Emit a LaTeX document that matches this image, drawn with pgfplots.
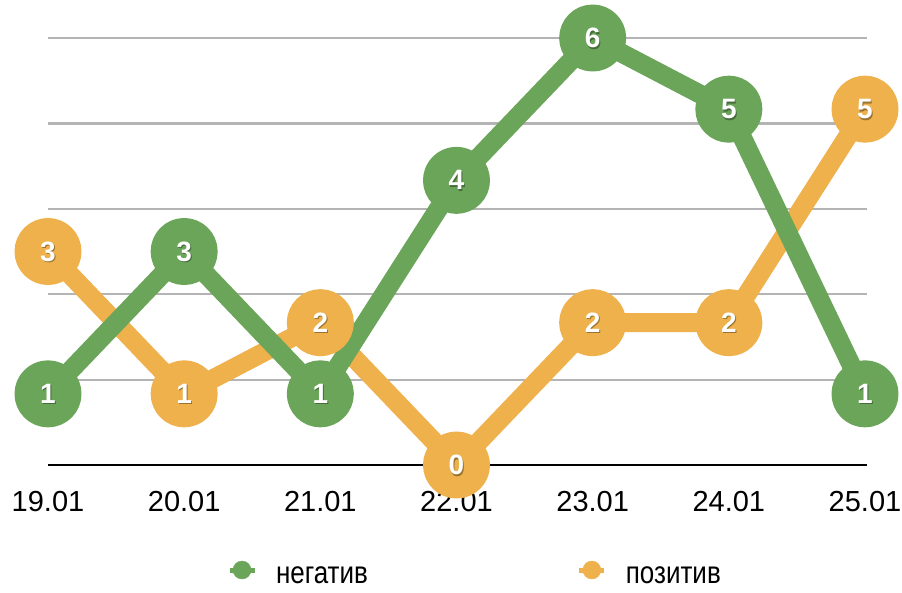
\documentclass[border=0pt]{standalone}
\usepackage{pgfplots}
\pgfplotsset{compat=1.18}
\usepackage{graphicx}
\usepackage{fontspec}
\setmainfont{Liberation Sans}
\definecolor{cgreen}{HTML}{6BA55A}
\definecolor{corange}{HTML}{EEB14B}
\definecolor{cgrid}{HTML}{B4B4B4}
\tikzset{
  lblstyle/.style={anchor=center, inner sep=0pt, font=\fontsize{28}{28}\selectfont\bfseries},
}
\begin{document}
\begin{tikzpicture}[x=1pt,y=1pt]
\begin{axis}[
  at={(48pt,127pt)}, anchor=south west,
  scale only axis, width=819pt, height=427pt,
  xmin=0, xmax=6.0147, ymin=0, ymax=6,
  clip=false,
  axis x line=bottom, axis y line=left,
  axis line style={-},
  y axis line style={draw=none},
  x axis line style={black, line width=2pt},
  tick style={draw=none},
  xtick={0,1,2,3,4,5,6},
  xticklabels={19.01,20.01,21.01,22.01,23.01,24.01,25.01},
  xticklabel style={font=\fontsize{29}{29}\selectfont, inner sep=0pt, yshift=-23.5pt},
  ytick={1.2,2.4,3.6,4.8,6},
  yticklabels={},
  ymajorgrids, grid style={cgrid, line width=2.2pt},
  /pgf/number format/assume math mode=true,
  legend columns=2,
  legend style={at={(0.21856,-0.2529)}, anchor=west, draw=none, fill=none,
    inner sep=0pt, outer sep=0pt,
    nodes={inner sep=0pt, font=\fontsize{26}{26}\selectfont, text=black},
    /tikz/every odd column/.style={column sep=19pt},
    /tikz/every even column/.style={column sep=209pt}},
  legend image code/.code={\draw[#1, line width=5pt] (0pt,6pt) -- (25pt,6pt);
    \fill[#1] (12.5pt,6pt) circle (9pt);},
]
% orange series
\addplot[forget plot, corange, line width=19pt, line join=round, mark=*, mark size=24pt,
  mark options={draw=none, fill=corange}] coordinates {
  (0,3) (1,1) (2,2) (3,0) (4,2) (5,2) (6,5)};
\addplot[forget plot, draw=none, mark=none, nodes near coords,
  every node near coord/.style={lblstyle, text=black, opacity=0.35, xshift=1pt, yshift=-1.5pt}] coordinates {
  (0,3) (1,1) (2,2) (3,0) (4,2) (5,2) (6,5)};
\addplot[forget plot, draw=none, mark=none, nodes near coords,
  every node near coord/.style={lblstyle, text=white}] coordinates {
  (0,3) (1,1) (2,2) (3,0) (4,2) (5,2) (6,5)};
% green series
\addplot[forget plot, cgreen, line width=19pt, line join=round, mark=*, mark size=24pt,
  mark options={draw=none, fill=cgreen}] coordinates {
  (0,1) (1,3) (2,1) (3,4) (4,6) (5,5) (6,1)};
\addplot[forget plot, draw=none, mark=none, nodes near coords,
  every node near coord/.style={lblstyle, text=black, opacity=0.35, xshift=1pt, yshift=-1.5pt}] coordinates {
  (0,1) (1,3) (2,1) (3,4) (4,6) (5,5) (6,1)};
\addplot[forget plot, draw=none, mark=none, nodes near coords,
  every node near coord/.style={lblstyle, text=white}] coordinates {
  (0,1) (1,3) (2,1) (3,4) (4,6) (5,5) (6,1)};
\addlegendimage{cgreen}
\addlegendentry{\scalebox{1}[1.2]{негатив}}
\addlegendimage{corange}
\addlegendentry{\scalebox{1}[1.2]{позитив}}
\end{axis}
\pgfresetboundingbox
\path[use as bounding box] (0,0) rectangle (902,592);
\end{tikzpicture}
\end{document}
